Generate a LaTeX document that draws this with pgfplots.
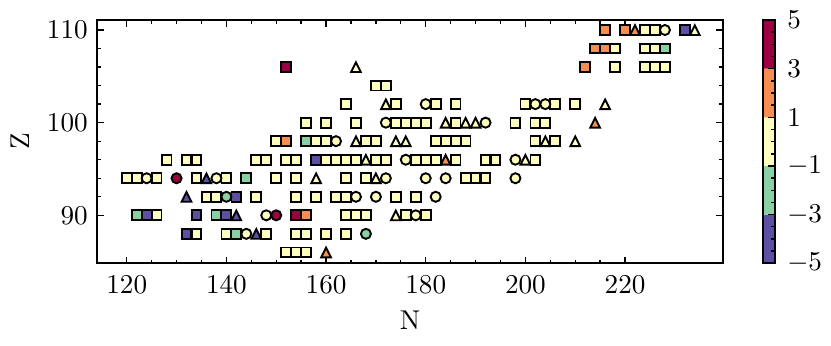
\documentclass[border=0pt]{standalone}
\usepackage{pgfplots}
\pgfplotsset{compat=1.18}
\definecolor{cP}{RGB}{94,79,162}
\definecolor{cG}{RGB}{137,208,165}
\definecolor{cY}{RGB}{255,255,191}
\definecolor{cO}{RGB}{248,141,82}
\definecolor{cR}{RGB}{158,1,66}
\pgfplotsset{
  sq/.style={only marks, mark=square*, mark size=1.8pt, mark options={draw=black, fill=#1, line width=0.7pt}},
  ci/.style={only marks, mark=*, mark size=1.85pt, mark options={draw=black, fill=#1, line width=0.7pt}},
  tr/.style={only marks, mark=triangle*, mark size=2.05pt, mark options={draw=black, fill=#1, line width=0.7pt, yscale=1.155, yshift=-0.55pt}},
}
\begin{document}
\begin{tikzpicture}
\path[use as bounding box] (0,0) rectangle (305.8pt,126.96pt);
\begin{axis}[
  at={(35.81pt,30.07pt)}, anchor=south west, scale only axis,
  width=230.15pt, height=89.53pt,
  xmin=114.1, xmax=239.6, ymin=84.82, ymax=111.08,
  xtick={120,140,...,220}, ytick={90,100,110},
  minor x tick num=3, minor y tick num=4,
  tick align=inside, xtick pos=both, ytick pos=both,
  major tick length=2.5pt, minor tick length=1.3pt,
  axis line style={line width=0.6pt},
  every tick/.style={black, line width=0.5pt},
  xticklabel style={yshift=-1.2pt},
  xlabel={N}, ylabel={Z},
  every axis x label/.style={at={(axis description cs:0.5,0)}, anchor=base, yshift=-24.5pt},
  every axis y label/.style={at={(axis description cs:0,0.5)}, xshift=-28.4pt, rotate=90, anchor=center},
  clip=false,
]
% yellow squares
\addplot[sq=cY] coordinates {
(224,110)(226,110)
(218,108)(224,108)(226,108)
(218,106)(224,106)(226,106)(228,106)
(170,104)(172,104)
(164,102)(174,102)(182,102)(186,102)(200,102)(206,102)(210,102)
(156,100)(160,100)(166,100)(174,100)(176,100)(178,100)(180,100)(186,100)(198,100)(202,100)(204,100)
(150,98)(158,98)(160,98)(168,98)(170,98)(182,98)(184,98)(186,98)(188,98)(202,98)(206,98)
(128,96)(132,96)(134,96)(146,96)(148,96)(152,96)(154,96)(160,96)(162,96)(164,96)(166,96)(170,96)(172,96)(178,96)(180,96)(182,96)(186,96)(192,96)(194,96)(202,96)
(120,94)(122,94)(126,94)(134,94)(140,94)(150,94)(154,94)(164,94)(168,94)(188,94)(190,94)(192,94)
(136,92)(138,92)(146,92)(154,92)(158,92)(162,92)(164,92)(174,92)(178,92)
(126,90)(164,90)(166,90)(168,90)(176,90)(180,90)
(134,88)(140,88)(148,88)(154,88)(156,88)(160,88)(164,88)
(152,86)(154,86)(156,86)
};
\addplot[sq=cO] coordinates {(216,110)(220,110)(214,108)(216,108)(212,106)(152,98)(156,90)};
\addplot[sq=cR] coordinates {(152,106)(154,90)};
\addplot[sq=cG] coordinates {(228,108)(156,98)(144,94)(122,90)(138,90)(142,88)};
\addplot[sq=cP] coordinates {(232,110)(158,96)(142,92)(124,90)(134,90)(140,90)(132,88)};
% circles
\addplot[ci=cY] coordinates {(228,110)(180,102)(202,102)(204,102)(172,100)(192,100)(162,98)(176,96)(198,96)(124,94)(138,94)(172,94)(180,94)(184,94)(198,94)(166,92)(170,92)(182,92)(148,90)(178,90)(144,88)};
\addplot[ci=cR] coordinates {(130,94)(150,90)};
\addplot[ci=cG] coordinates {(140,92)(168,88)};
% triangles
\addplot[tr=cY] coordinates {(234,110)(166,106)(172,102)(216,102)(184,100)(188,100)(190,100)(166,98)(174,98)(176,98)(204,98)(210,98)(168,96)(200,96)(158,94)(170,94)(174,90)};
\addplot[tr=cO] coordinates {(222,110)(214,100)(184,96)(160,86)};
\addplot[tr=cP] coordinates {(136,94)(132,92)(142,90)(146,88)};
\end{axis}
% colorbar
\begin{axis}[
  at={(280.67pt,30.07pt)}, anchor=south west, scale only axis,
  width=4.53pt, height=89.53pt,
  xmin=0, xmax=1, ymin=-5, ymax=5,
  xtick=\empty, ytick={-5,-3,...,5}, minor y tick num=3,
  ytick pos=right, yticklabel pos=right, tick align=inside,
  major tick length=2.5pt, minor tick length=1.3pt,
  axis line style={line width=0.6pt},
  every tick/.style={black, line width=0.5pt},
  yticklabel style={xshift=1pt},
  axis on top,
]
\addplot[fill=cP, draw=none] coordinates {(0,-5)(1,-5)(1,-3)(0,-3)(0,-5)};
\addplot[fill=cG, draw=none] coordinates {(0,-3)(1,-3)(1,-1)(0,-1)(0,-3)};
\addplot[fill=cY, draw=none] coordinates {(0,-1)(1,-1)(1,1)(0,1)(0,-1)};
\addplot[fill=cO, draw=none] coordinates {(0,1)(1,1)(1,3)(0,3)(0,1)};
\addplot[fill=cR, draw=none] coordinates {(0,3)(1,3)(1,5)(0,5)(0,3)};
\end{axis}
\end{tikzpicture}
\end{document}
